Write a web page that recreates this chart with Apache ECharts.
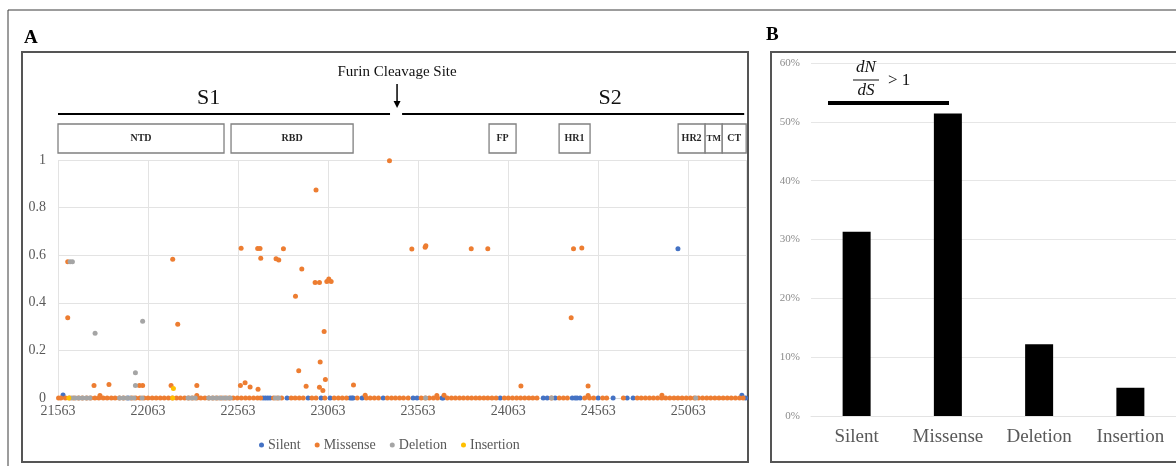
<!DOCTYPE html>
<html>
<head>
<meta charset="utf-8">
<script src="https://cdn.jsdelivr.net/npm/echarts@6/dist/echarts.min.js"></script>
<style>
  html, body { margin: 0; padding: 0; background: #fff; }
  #chart { width: 1176px; height: 466px; }
</style>
</head>
<body>
<div id="chart"></div>
<script>
// Spike gene coordinates (SARS-CoV-2 reference genome)
const GENE_START = 21563;
const GENE_END = 25384;
const xTickStep = 500;

// Mutation frequency by genome position: [position, frequency]
const silentPoints = [
  [21591, 0.013], [25006, 0.627], [25361, 0.012]
];
const silentZero = [
  21952, 22702, 22715, 22728, 22741, 22835, 22952, 23024, 23074, 23185, 23195,
  23202, 23252, 23369, 23535, 23557, 23696, 23702, 24019, 24258, 24280, 24324,
  24419, 24435, 24446, 24463, 24563, 24646, 24724, 24757, 25382
];

const missensePoints = [
  [21617, 0.573], [21617, 0.337], [21763, 0.052], [21846, 0.057], [21796, 0.010],
  [22015, 0.052], [22033, 0.052], [22200, 0.583], [22228, 0.310], [22191, 0.052],
  [22334, 0.052], [22334, 0.010], [22580, 0.629], [22576, 0.053], [22602, 0.064],
  [22630, 0.046], [22672, 0.628], [22685, 0.628], [22689, 0.587], [22674, 0.037],
  [22774, 0.585], [22789, 0.580], [22815, 0.627], [22917, 0.542], [22882, 0.427],
  [22996, 0.874], [22991, 0.485], [23015, 0.485], [23056, 0.490], [23067, 0.500],
  [23080, 0.490], [22900, 0.115], [22941, 0.049], [23019, 0.151], [23041, 0.279],
  [23048, 0.078], [23015, 0.045], [23034, 0.031], [23204, 0.055], [23269, 0.012],
  [23404, 0.997], [23528, 0.626], [23602, 0.633], [23606, 0.640], [23858, 0.627],
  [23950, 0.627], [23667, 0.010], [23707, 0.012], [24426, 0.627], [24472, 0.630],
  [24413, 0.337], [24134, 0.050], [24507, 0.050], [24507, 0.010], [24917, 0.012]
];
const missenseZero = [
  21566, 21579, 21604, 21628, 21651, 21676, 21698, 21723, 21745, 21768, 21790,
  21814, 21836, 21859, 21880, 21904, 21927, 21973, 21995, 22018, 22041, 22063,
  22086, 22108, 22131, 22153, 22176, 22198, 22221, 22243, 22266, 22289, 22311,
  22334, 22356, 22379, 22401, 22424, 22446, 22469, 22491, 22514, 22536, 22559,
  22581, 22604, 22626, 22649, 22671, 22688, 22760, 22782, 22805, 22858, 22880,
  22903, 22925, 22973, 22996, 23045, 23097, 23120, 23142, 23165, 23225, 23275,
  23297, 23320, 23343, 23392, 23415, 23437, 23460, 23482, 23508, 23580, 23603,
  23625, 23648, 23671, 23725, 23748, 23770, 23793, 23815, 23838, 23860, 23883,
  23905, 23928, 23950, 23973, 23996, 24042, 24064, 24087, 24110, 24132, 24155,
  24178, 24200, 24223, 24303, 24347, 24370, 24392, 24488, 24515, 24538, 24588,
  24610, 24703, 24780, 24802, 24825, 24848, 24870, 24893, 24916, 24938, 24961,
  24984, 25006, 25029, 25052, 25075, 25097, 25120, 25143, 25166, 25188, 25211,
  25234, 25257, 25280, 25302, 25325, 25348, 25368
];

const deletionPoints = [
  [21630, 0.573], [21643, 0.573], [21769, 0.272], [21993, 0.106], [21993, 0.052],
  [22033, 0.322]
];
const deletionZero = [
  21640, 21660, 21680, 21700, 21720, 21740, 21905, 21925, 21945, 21965, 21985,
  22030, 22285, 22305, 22325, 22400, 22420, 22440, 22460, 22480, 22500, 22520,
  22770, 22790, 23605, 24305, 25105
];

const insertionPoints = [[22204, 0.040]];
const insertionZero = [21623, 22200];

// Spike protein domains: name, start, end (genome positions)
const domainNames = ['NTD', 'RBD', 'FP', 'HR1', 'HR2', 'TM', 'CT'];
const domainStart = [21563, 22524, 23957, 24346, 25007, 25157, 25252];
const domainEnd   = [22485, 23202, 24107, 24518, 25157, 25252, 25385];

// Subunits S1 / S2 and their label anchors
const subunitNames = ['S1', 'S2'];
const subunitStart = [21563, 23474];
const subunitEnd   = [23407, 25374];
const subunitLabelPos = [22400, 24630];
const furinSite = 23446;

// Panel B: share of mutation types (%)
const typeNames = ['Silent', 'Missense', 'Deletion', 'Insertion'];
const typeShare = [31.3, 51.4, 12.2, 4.8];

const COLORS = {
  Silent: '#4472C4', Missense: '#ED7D31', Deletion: '#A5A5A5', Insertion: '#FFC000'
};
const SERIF = '"Liberation Serif", "Times New Roman", serif';

function toSeries(points, zeros) {
  const rel = p => p - GENE_START;
  return zeros.map(p => [rel(p), 0]).concat(points.map(d => [rel(d[0]), d[1]]));
}

const chart = echarts.init(document.getElementById('chart'), null, { renderer: 'canvas' });

const scatterBase = {
  type: 'scatter', xAxisIndex: 0, yAxisIndex: 0, symbol: 'circle', symbolSize: 5,
  silent: true
};

const option = {
  backgroundColor: '#fff',
  animation: false,
  textStyle: { fontFamily: SERIF },
  grid: [
    { left: 58, top: 160, width: 688, height: 238 },
    { left: 811, top: 63, width: 368, height: 353 }
  ],
  xAxis: [
    {
      gridIndex: 0, type: 'value', min: 0, max: GENE_END - GENE_START, interval: xTickStep,
      axisLine: { lineStyle: { color: '#d9d9d9' } },
      axisTick: { show: false },
      splitLine: { lineStyle: { color: '#e3e3e3' } },
      axisLabel: {
        color: '#595959', fontSize: 14, fontFamily: SERIF, margin: 6,
        showMaxLabel: false,
        formatter: v => String(v + GENE_START)
      }
    },
    {
      gridIndex: 1, type: 'category', data: typeNames,
      axisLine: { lineStyle: { color: '#e3e3e3' } },
      axisTick: { show: false },
      axisLabel: { color: '#595959', fontSize: 19, fontFamily: SERIF, margin: 12, interval: 0 }
    }
  ],
  yAxis: [
    {
      gridIndex: 0, type: 'value', min: 0, max: 1, interval: 0.2,
      axisLine: { show: false }, axisTick: { show: false },
      splitLine: { lineStyle: { color: '#e3e3e3' } },
      axisLabel: { color: '#595959', fontSize: 14, fontFamily: SERIF, margin: 12 }
    },
    {
      gridIndex: 1, type: 'value', min: 0, max: 60, interval: 10,
      axisLine: { show: false }, axisTick: { show: false },
      splitLine: { lineStyle: { color: '#e6e6e6' } },
      axisLabel: { color: '#8c8c8c', fontSize: 11, fontFamily: SERIF, margin: 11, formatter: '{value}%' }
    }
  ],
  legend: {
    left: 254, top: 433,
    itemWidth: 5, itemHeight: 5, itemGap: 14,
    icon: 'circle',
    textStyle: { color: '#595959', fontSize: 14, fontFamily: SERIF, padding: [0, 0, 0, -1] },
    data: ['Silent', 'Missense', 'Deletion', 'Insertion']
  },
  series: [
    Object.assign({}, scatterBase, {
      name: 'Silent', itemStyle: { color: COLORS.Silent, opacity: 1 }, data: toSeries(silentPoints, silentZero)
    }),
    Object.assign({}, scatterBase, {
      name: 'Missense', itemStyle: { color: COLORS.Missense, opacity: 1 }, data: toSeries(missensePoints, missenseZero)
    }),
    Object.assign({}, scatterBase, {
      name: 'Deletion', itemStyle: { color: COLORS.Deletion, opacity: 1 }, data: toSeries(deletionPoints, deletionZero)
    }),
    Object.assign({}, scatterBase, {
      name: 'Insertion', itemStyle: { color: COLORS.Insertion, opacity: 1 }, data: toSeries(insertionPoints, insertionZero)
    }),
    // Domain boxes above the plot
    {
      type: 'custom', xAxisIndex: 0, yAxisIndex: 0, clip: false, silent: true,
      encode: { x: [0, 1], y: 2 },
      data: domainStart.map((s, i) => [s - GENE_START, domainEnd[i] - GENE_START, 0]),
      renderItem: function (params, api) {
        const x0 = api.coord([api.value(0), 0])[0];
        const x1 = api.coord([api.value(1), 0])[0];
        const top = params.coordSys.y;
        const name = domainNames[params.dataIndex];
        const small = (x1 - x0) < 22;
        return {
          type: 'group',
          children: [
            {
              type: 'rect',
              shape: { x: x0, y: top - 36, width: x1 - x0, height: 29 },
              style: { fill: '#fff', stroke: '#808080', lineWidth: 1.3 }
            },
            {
              type: 'text',
              style: {
                text: name, x: (x0 + x1) / 2, y: top - 21.5,
                align: 'center', verticalAlign: 'middle',
                font: 'bold ' + (small ? 9 : 10) + 'px ' + SERIF, fill: '#262626'
              }
            }
          ]
        };
      }
    },
    // S1 / S2 subunit bars and labels
    {
      type: 'custom', xAxisIndex: 0, yAxisIndex: 0, clip: false, silent: true,
      encode: { x: [0, 1], y: 2 },
      data: subunitStart.map((s, i) => [s - GENE_START, subunitEnd[i] - GENE_START, 0]),
      renderItem: function (params, api) {
        const x0 = api.coord([api.value(0), 0])[0];
        const x1 = api.coord([api.value(1), 0])[0];
        const lx = api.coord([subunitLabelPos[params.dataIndex] - GENE_START, 0])[0];
        const top = params.coordSys.y;
        return {
          type: 'group',
          children: [
            {
              type: 'line',
              shape: { x1: x0, y1: top - 46, x2: x1, y2: top - 46 },
              style: { stroke: '#000', lineWidth: 2 }
            },
            {
              type: 'text',
              style: {
                text: subunitNames[params.dataIndex], x: lx, y: top - 62,
                align: 'center', verticalAlign: 'middle',
                font: '22px ' + SERIF, fill: '#111'
              }
            }
          ]
        };
      }
    },
    // Furin cleavage site marker
    {
      type: 'custom', xAxisIndex: 0, yAxisIndex: 0, clip: false, silent: true,
      encode: { x: 0, y: 1 },
      data: [[furinSite - GENE_START, 0]],
      renderItem: function (params, api) {
        const x = api.coord([api.value(0), 0])[0];
        const top = params.coordSys.y;
        return {
          type: 'group',
          children: [
            {
              type: 'text',
              style: {
                text: 'Furin Cleavage Site', x: x, y: top - 88,
                align: 'center', verticalAlign: 'middle',
                font: '15px ' + SERIF, fill: '#111'
              }
            },
            {
              type: 'line',
              shape: { x1: x, y1: top - 76, x2: x, y2: top - 57 },
              style: { stroke: '#000', lineWidth: 1.5 }
            },
            {
              type: 'polygon',
              shape: { points: [[x - 3.5, top - 59], [x + 3.5, top - 59], [x, top - 52]] },
              style: { fill: '#000' }
            }
          ]
        };
      }
    },
    {
      type: 'bar', xAxisIndex: 1, yAxisIndex: 1, barWidth: 28,
      itemStyle: { color: '#000' }, silent: true,
      data: typeShare
    }
  ],
  graphic: [
    {
      type: 'polyline', z: 0,
      shape: { points: [[8, 466], [8, 10], [1176, 10]] },
      style: { stroke: '#3a3a3a', lineWidth: 1, fill: null }
    },
    {
      type: 'rect', z: 0,
      shape: { x: 22, y: 52, width: 726, height: 410 },
      style: { stroke: '#555', lineWidth: 2, fill: null }
    },
    {
      type: 'rect', z: 0,
      shape: { x: 771, y: 52, width: 420, height: 410 },
      style: { stroke: '#555', lineWidth: 2, fill: null }
    },
    {
      type: 'text', left: 24, top: 29,
      style: { text: 'A', font: 'bold 19px ' + SERIF, fill: '#000' }
    },
    {
      type: 'text', left: 766, top: 26,
      style: { text: 'B', font: 'bold 19px ' + SERIF, fill: '#000' }
    },
    // dN/dS > 1 annotation over Silent and Missense
    {
      type: 'text', z: 10,
      style: { text: 'dN', x: 866, y: 68, align: 'center', verticalAlign: 'middle', font: 'italic 17px ' + SERIF, fill: '#111' }
    },
    {
      type: 'line', z: 10,
      shape: { x1: 853, y1: 80, x2: 879, y2: 80 },
      style: { stroke: '#111', lineWidth: 1 }
    },
    {
      type: 'text', z: 10,
      style: { text: 'dS', x: 866, y: 91, align: 'center', verticalAlign: 'middle', font: 'italic 17px ' + SERIF, fill: '#111' }
    },
    {
      type: 'text', z: 10,
      style: { text: '> 1', x: 888, y: 81, align: 'left', verticalAlign: 'middle', font: '17px ' + SERIF, fill: '#111' }
    },
    {
      type: 'line', z: 10,
      shape: { x1: 828, y1: 103, x2: 949, y2: 103 },
      style: { stroke: '#000', lineWidth: 4 }
    }
  ]
};

chart.setOption(option);
</script>
</body>
</html>
